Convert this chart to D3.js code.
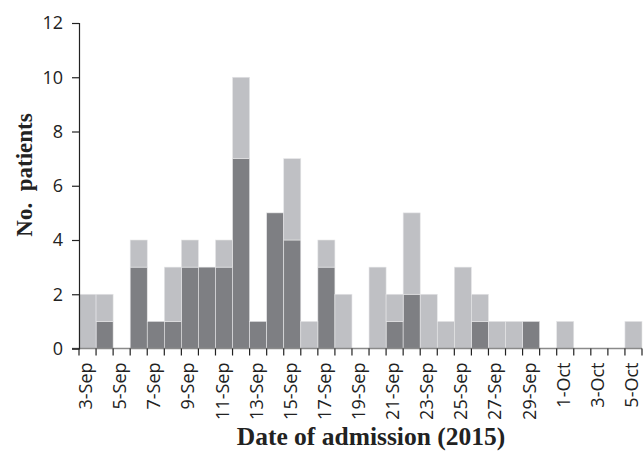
<!DOCTYPE html>
<html>
  <head>
    <meta charset="utf-8">
    <title>Admissions by date</title>
    <script src="https://d3js.org/d3.v7.min.js"></script>
    <style>
      body { margin: 0; background: #fff; }
      svg { display: block; }
      .tick text { font-family: "Open Sans", sans-serif; fill: #222; }
    </style>
  </head>
  <body>
    <div id="chart"></div>
    <script>
      // one entry per day, 3 Sep to 5 Oct 2015
      const days = ["3-Sep","4-Sep","5-Sep","6-Sep","7-Sep","8-Sep","9-Sep","10-Sep","11-Sep","12-Sep",
        "13-Sep","14-Sep","15-Sep","16-Sep","17-Sep","18-Sep","19-Sep","20-Sep","21-Sep","22-Sep",
        "23-Sep","24-Sep","25-Sep","26-Sep","27-Sep","28-Sep","29-Sep","30-Sep","1-Oct","2-Oct",
        "3-Oct","4-Oct","5-Oct"];
      // dark (bottom) series
      const darkCounts = [0,1,0,3,1,1,3,3,3,7, 1,5,4,0,3,0,0,0,1,2, 0,0,0,1,0,0,1,0,0,0, 0,0,0];
      // light (top) series, stacked on the dark one
      const lightCounts = [2,1,0,1,0,2,1,0,1,3, 0,0,3,1,1,2,0,3,1,3, 2,1,3,1,1,1,0,0,1,0, 0,0,1];
      const yTicks = [0, 2, 4, 6, 8, 10, 12];

      const width = 643, height = 461;
      const margin = { top: 23, right: 1, bottom: 112.5, left: 79 };

      const svg = d3.select("#chart")
        .append("svg")
        .attr("width", width)
        .attr("height", height);

      const x = d3.scaleBand()
        .domain(days)
        .range([margin.left, width - margin.right])
        .padding(0);

      const y = d3.scaleLinear()
        .domain([0, 12])
        .range([height - margin.bottom, margin.top]);

      const rows = days.map(function(d, i) {
        return { day: d, dark: darkCounts[i], light: lightCounts[i] };
      });
      const stacked = d3.stack().keys(["dark", "light"])(rows);
      const colours = { dark: "#7e7f83", light: "#bfc0c4" };

      // bars
      svg.append("g")
        .selectAll("g")
        .data(stacked)
        .join("g")
          .attr("fill", function(s) { return colours[s.key]; })
        .selectAll("rect")
        .data(function(s) { return s.filter(function(d) { return d[1] > d[0]; }); })
        .join("rect")
          .attr("x", function(d) { return x(d.data.day); })
          .attr("y", function(d) { return y(d[1]); })
          .attr("width", x.bandwidth())
          .attr("height", function(d) { return y(d[0]) - y(d[1]); })
          .attr("stroke", "#e6e6e8")
          .attr("stroke-width", 0.6);

      // x axis: grey baseline, dark ticks at day boundaries
      const baseY = y(0);
      svg.append("line")
        .attr("x1", margin.left - 7).attr("x2", width - margin.right)
        .attr("y1", baseY).attr("y2", baseY)
        .attr("stroke", "#8a8a8a")
        .attr("stroke-width", 1.5);
      svg.append("g")
        .selectAll("line")
        .data(days.concat(["end"]))
        .join("line")
          .attr("x1", function(d, i) { return margin.left + i * x.step(); })
          .attr("x2", function(d, i) { return margin.left + i * x.step(); })
          .attr("y1", baseY)
          .attr("y2", baseY + 7)
          .attr("stroke", "#222")
          .attr("stroke-width", 1.2);

      // x labels, every other day
      svg.append("g")
        .selectAll("text")
        .data(days.filter(function(d, i) { return i % 2 === 0; }))
        .join("text")
          .attr("transform", function(d) {
            return "translate(" + (x(d) + x.bandwidth() / 2 + 4.5) + "," + (baseY + 14) + ") rotate(-90)";
          })
          .attr("text-anchor", "end")
          .style("font-family", "'Open Sans', sans-serif")
          .style("font-size", "18px")
          .attr("fill", "#222")
          .text(function(d) { return d; });

      // y axis
      const yAxis = svg.append("g")
        .attr("transform", "translate(" + margin.left + ",0)")
        .call(d3.axisLeft(y).tickValues(yTicks).tickSize(7).tickPadding(9));
      yAxis.select(".domain").attr("stroke", "#222").attr("stroke-width", 1.2);
      yAxis.selectAll(".tick line").attr("stroke", "#222").attr("stroke-width", 1.2);
      yAxis.selectAll(".tick text").style("font-size", "18px");

      // axis titles
      svg.append("text")
        .attr("x", 371)
        .attr("y", 445)
        .attr("text-anchor", "middle")
        .style("font-family", "'Liberation Serif', 'Times New Roman', serif")
        .style("font-weight", "bold")
        .style("font-size", "25.5px")
        .attr("fill", "#222")
        .text("Date of admission (2015)");

      svg.append("text")
        .attr("transform", "translate(32,175) rotate(-90)")
        .attr("text-anchor", "middle")
        .style("font-family", "'Liberation Serif', 'Times New Roman', serif")
        .style("font-weight", "bold")
        .style("font-size", "23px")
        .style("white-space", "pre")
        .attr("fill", "#222")
        .text("No.  patients");
    </script>
  </body>
</html>
